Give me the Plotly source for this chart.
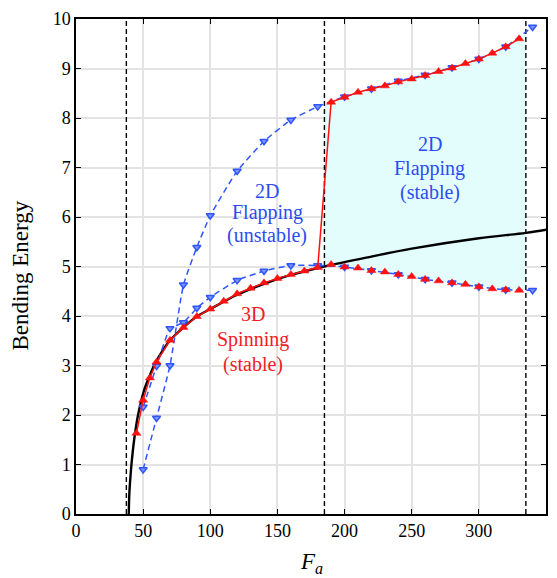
import numpy as np
import plotly.graph_objects as go

# ---- data -------------------------------------------------------------
# 3D spinning branch (red), below the transition
f_spin = [45, 50, 55, 60, 70, 80, 90, 100, 110, 120, 130, 140, 150, 160, 170, 180]
e_spin = [1.63, 2.30, 2.75, 3.07, 3.51, 3.77, 3.99, 4.14, 4.30, 4.45, 4.56, 4.67,
          4.76, 4.84, 4.91, 4.98]

# red branch after the jump (upper) and the red points on the lower flapping branch
f_red_hi = [190, 200, 210, 220, 230, 240, 250, 260, 270, 280, 290, 300, 310, 320, 330]
e_red_hi = [8.32, 8.42, 8.52, 8.59, 8.65, 8.73, 8.79, 8.86, 8.94, 9.01, 9.10, 9.19,
            9.31, 9.44, 9.60]
e_red_lo = [5.04, 4.99, 4.97, 4.92, 4.89, 4.84, 4.80, 4.74, 4.71, 4.67, 4.64, 4.59,
            4.55, 4.53, 4.52]

# 2D flapping branches (blue)
f_flap = [50, 60, 70, 80, 90, 100, 120, 140, 160, 180, 200, 220, 240, 260, 280, 300, 320, 340]
e_flap_hi = [0.90, 1.94, 3.00, 4.63, 5.39, 6.03, 6.93, 7.53, 7.96, 8.23, 8.43, 8.59,
             8.75, 8.87, 9.02, 9.19, 9.44, 9.84]
e_flap_lo = [2.16, 2.99, 3.75, 3.87, 4.16, 4.38, 4.72, 4.91, 5.02, 5.02, 4.99, 4.92,
             4.84, 4.74, 4.67, 4.59, 4.53, 4.52]

# theoretical curve (black)
f_theory = [39.3, 39.7, 40.4, 41.3, 43.3, 46.2, 50.7, 55, 58.1, 64, 70, 80, 90, 100,
            120, 140, 160, 185, 220, 250, 300, 335, 352]
e_theory = [0.0, 0.4, 0.7, 1.0, 1.5, 2.0, 2.5, 2.8, 3.0, 3.28, 3.51, 3.77, 3.99, 4.14,
            4.43, 4.65, 4.83, 5.0, 5.2, 5.36, 5.57, 5.68, 5.75]

# critical forcing values (dashed verticals)
f_crit = [37.5, 185, 335]

x_ticks = [0, 50, 100, 150, 200, 250, 300, 350]
y_ticks = list(range(0, 11))

BLUE = "#2f55ff"
RED = "#ff1010"
SERIF = "Liberation Serif, Times New Roman, serif"

fig = go.Figure()

# stable flapping region between the critical forces
f_band = [f_crit[1]] + f_red_hi + [f_crit[2]]
top = np.interp(f_band, f_flap, e_flap_hi)
bot = np.interp(f_band, f_flap, e_flap_lo)
fig.add_trace(go.Scatter(
    x=list(f_band) + list(f_band[::-1]),
    y=list(top) + list(bot[::-1]),
    fill="toself", fillcolor="#e2fdfc", line=dict(width=0),
    mode="lines", hoverinfo="skip", showlegend=False))

# dashed verticals
for fc in f_crit:
    fig.add_trace(go.Scatter(
        x=[fc, fc], y=[0, 10], mode="lines",
        line=dict(color="black", width=1.4, dash="5px,3px"),
        showlegend=False, hoverinfo="skip"))

# theory curve
fig.add_trace(go.Scatter(
    x=f_theory, y=e_theory, mode="lines", line=dict(color="black", width=2.4, shape="spline"),
    showlegend=False))

# flapping branches
for e_vals in (e_flap_hi, e_flap_lo):
    fig.add_trace(go.Scatter(
        x=f_flap, y=e_vals, mode="lines+markers",
        line=dict(color=BLUE, width=1.5, dash="6px,4px", shape="spline", smoothing=0.4),
        marker=dict(symbol="triangle-down", size=7, color="#7d95ff",
                    line=dict(color=BLUE, width=1.5)),
        showlegend=False))

# red branch with the jump
fig.add_trace(go.Scatter(
    x=f_spin + f_red_hi, y=e_spin + e_red_hi, mode="lines+markers",
    line=dict(color=RED, width=1.5),
    marker=dict(symbol="triangle-up", size=8, color=RED, line=dict(color=RED, width=0.5)),
    showlegend=False))
fig.add_trace(go.Scatter(
    x=f_red_hi, y=e_red_lo, mode="markers",
    marker=dict(symbol="triangle-up", size=8, color=RED, line=dict(color=RED, width=0.5)),
    showlegend=False))

# region labels, one annotation per line
labels = [
    (["2D", "Flapping", "(unstable)"], 142.4, [6.53, 6.09, 5.62], "#2c4cf0"),
    (["2D", "Flapping", "(stable)"], 263.4, [7.47, 6.98, 6.49], "#2c4cf0"),
    (["3D", "Spinning", "(stable)"], 132.0, [4.05, 3.53, 3.02], "#f01c24"),
]
for lines, xc, ys, col in labels:
    for txt, yc in zip(lines, ys):
        fig.add_annotation(x=xc, y=yc, text=txt, showarrow=False,
                           xanchor="center", yanchor="middle",
                           font=dict(family=SERIF, size=20, color=col))

# axis titles
fig.add_annotation(xref="paper", yref="paper", x=0.5, y=0, yshift=-49,
                   text="<i>F</i><sub><i>a</i></sub>", showarrow=False,
                   xanchor="center", yanchor="middle",
                   font=dict(family=SERIF, size=23, color="black"))
fig.add_annotation(xref="paper", yref="paper", x=0, xshift=-56, y=0.5, yshift=-9,
                   text="Bending Energy", textangle=-90, showarrow=False,
                   xanchor="center", yanchor="middle",
                   font=dict(family=SERIF, size=23, color="black"))

axis_common = dict(
    showgrid=True, gridcolor="#e3e3e3", gridwidth=1.5,
    showline=True, linecolor="black", linewidth=1.5, mirror="ticks",
    ticks="inside", ticklen=5, tickwidth=1, tickcolor="black",
    tickfont=dict(family=SERIF, size=18, color="black"),
    zeroline=False,
)
fig.update_xaxes(range=[0, 350], tickvals=x_ticks, **axis_common)
fig.update_yaxes(range=[0, 10], tickvals=y_ticks, **axis_common)

fig.update_layout(
    width=557, height=578,
    margin=dict(l=76, r=9, t=18, b=64),
    plot_bgcolor="white", paper_bgcolor="white",
    showlegend=False,
)

fig.write_html("out.html")
